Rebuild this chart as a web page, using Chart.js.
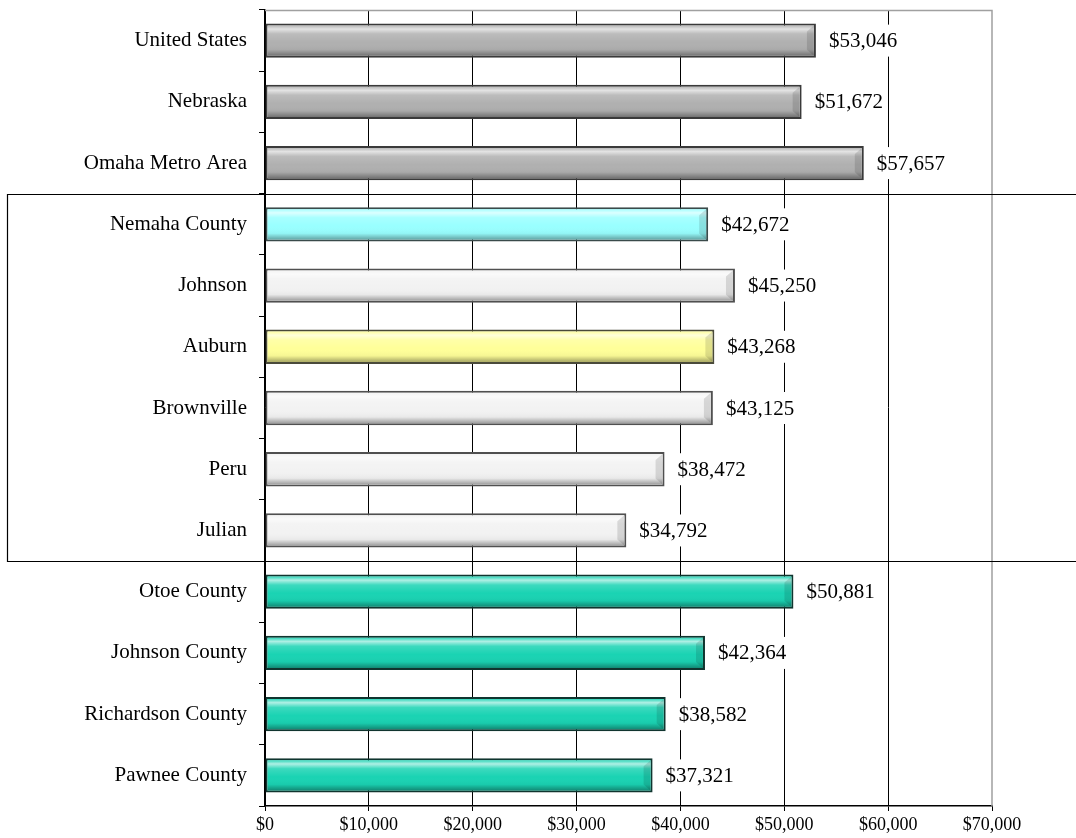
<!DOCTYPE html>
<html>
<head>
<meta charset="utf-8">
<script src="https://cdn.jsdelivr.net/npm/chart.js@4.4.1/dist/chart.umd.min.js"></script>
<style>
  html, body { margin: 0; padding: 0; background: #fff; }
  #wrap { width: 1076px; height: 838px; position: relative; }
</style>
</head>
<body>
<div id="wrap"><canvas id="incomeChart"></canvas></div>
<script>
// Median household income by area
const categories = [
  "United States", "Nebraska", "Omaha Metro Area",
  "Nemaha County", "Johnson", "Auburn", "Brownville", "Peru", "Julian",
  "Otoe County", "Johnson County", "Richardson County", "Pawnee County"
];
const incomes = [53046, 51672, 57657, 42672, 45250, 43268, 43125, 38472, 34792, 50881, 42364, 38582, 37321];
const barColors = [
  "#b0b0b0", "#b0b0b0", "#b0b0b0",
  "#99ffff", "#f2f2f2", "#ffff99", "#f2f2f2", "#f2f2f2", "#f2f2f2",
  "#1ad3b3", "#1ad3b3", "#1ad3b3", "#1ad3b3"
];
const barBorders = [
  "#3a3a3a", "#3a3a3a", "#3a3a3a",
  "#3a4a4a", "#505050", "#4a4a3a", "#505050", "#505050", "#505050",
  "#10352f", "#10352f", "#10352f", "#10352f"
];
const xTicks = [0, 10000, 20000, 30000, 40000, 50000, 60000, 70000];

// highlighted group (Nemaha County .. Julian)
const boxFirst = 3;
const boxLast = 8;

const serif = "'Liberation Serif', 'Times New Roman', serif";
const money = (v) => "$" + Number(v).toLocaleString("en-US");

// bevel look + value labels with white backing
const barDecor = {
  id: "barDecor",
  afterDatasetsDraw(chart) {
    const ctx = chart.ctx;
    const meta = chart.getDatasetMeta(0);
    meta.data.forEach((bar, i) => {
      const p = bar.getProps(["x", "y", "base", "height"], true);
      const left = Math.min(p.base, p.x) + 2;
      const right = Math.max(p.base, p.x) - 2;
      const top = p.y - p.height / 2 + 2;
      const bottom = p.y + p.height / 2 - 2;
      const g = ctx.createLinearGradient(0, top, 0, bottom);
      g.addColorStop(0, "rgba(255,255,255,0.1)");
      g.addColorStop(0.12, "rgba(255,255,255,0.65)");
      g.addColorStop(0.28, "rgba(255,255,255,0.15)");
      g.addColorStop(0.55, "rgba(255,255,255,0)");
      g.addColorStop(0.8, "rgba(0,0,0,0.04)");
      g.addColorStop(1, "rgba(0,0,0,0.35)");
      ctx.save();
      ctx.fillStyle = g;
      ctx.fillRect(left, top, right - left, bottom - top);
      // right end bevel
      ctx.beginPath();
      ctx.moveTo(right, top);
      ctx.lineTo(right - 7, top + 6);
      ctx.lineTo(right - 7, bottom - 6);
      ctx.lineTo(right, bottom);
      ctx.closePath();
      ctx.fillStyle = "rgba(0,0,0,0.12)";
      ctx.fill();
      ctx.restore();

      // value label
      const txt = money(incomes[i]);
      ctx.save();
      ctx.font = "21px " + serif;
      const w = ctx.measureText(txt).width;
      const lx = p.x + 13;
      ctx.fillStyle = "#fff";
      ctx.fillRect(lx - 3, p.y - 16, w + 6, 32);
      ctx.fillStyle = "#000";
      ctx.textBaseline = "middle";
      ctx.textAlign = "left";
      ctx.fillText(txt, lx, p.y + 1);
      ctx.restore();
    });
  },
  afterDraw(chart) {
    const ctx = chart.ctx;
    const area = chart.chartArea;
    const y = chart.scales.y;
    ctx.save();
    // light frame on top and right of plot
    ctx.strokeStyle = "#a0a0a0";
    ctx.lineWidth = 1.5;
    ctx.beginPath();
    ctx.moveTo(area.left, area.top + 0.5);
    ctx.lineTo(area.right, area.top + 0.5);
    ctx.lineTo(area.right, area.bottom);
    ctx.stroke();
    // group box
    const yTop = Math.round(y.getPixelForValue(boxFirst - 0.5)) + 0.5;
    const yBot = Math.round(y.getPixelForValue(boxLast + 0.5)) + 0.5;
    ctx.strokeStyle = "#000";
    ctx.lineWidth = 1.2;
    ctx.beginPath();
    ctx.moveTo(chart.width, yTop);
    ctx.lineTo(7.5, yTop);
    ctx.lineTo(7.5, yBot);
    ctx.lineTo(chart.width, yBot);
    ctx.stroke();
    ctx.restore();
  }
};

new Chart(document.getElementById("incomeChart"), {
  type: "bar",
  data: {
    labels: categories,
    datasets: [{
      data: incomes,
      backgroundColor: barColors,
      borderColor: barBorders,
      borderWidth: 2,
      borderSkipped: false,
      categoryPercentage: 1,
      barPercentage: 0.56
    }]
  },
  options: {
    indexAxis: "y",
    responsive: true,
    maintainAspectRatio: false,
    animation: false,
    layout: { padding: { top: 10, right: 84, bottom: 0, left: 0 } },
    plugins: {
      legend: { display: false },
      tooltip: { enabled: false }
    },
    scales: {
      x: {
        min: 0,
        max: 70000,
        afterBuildTicks: (scale) => { scale.ticks = xTicks.map((v) => ({ value: v })); },
        afterFit: (scale) => { scale.height = 32; },
        border: { color: "#000", width: 1.5 },
        grid: {
          color: (c) => (c.tick && c.tick.value === 70000 ? "rgba(0,0,0,0)" : "#000"),
          lineWidth: 1,
          tickColor: "#000",
          tickLength: 5
        },
        ticks: {
          color: "#000",
          padding: 3,
          maxRotation: 0,
          font: { family: serif, size: 18 },
          callback: (v) => money(v)
        }
      },
      y: {
        afterFit: (scale) => {
          scale.width = 265;
          scale.paddingTop = 0;
          scale.paddingBottom = 0;
        },
        border: { color: "#000", width: 1.5 },
        grid: {
          offset: true,
          drawOnChartArea: false,
          tickColor: "#000",
          tickLength: 6
        },
        ticks: {
          color: "#000",
          padding: 12,
          font: { family: serif, size: 21 }
        }
      }
    }
  },
  plugins: [barDecor]
});
</script>
</body>
</html>
